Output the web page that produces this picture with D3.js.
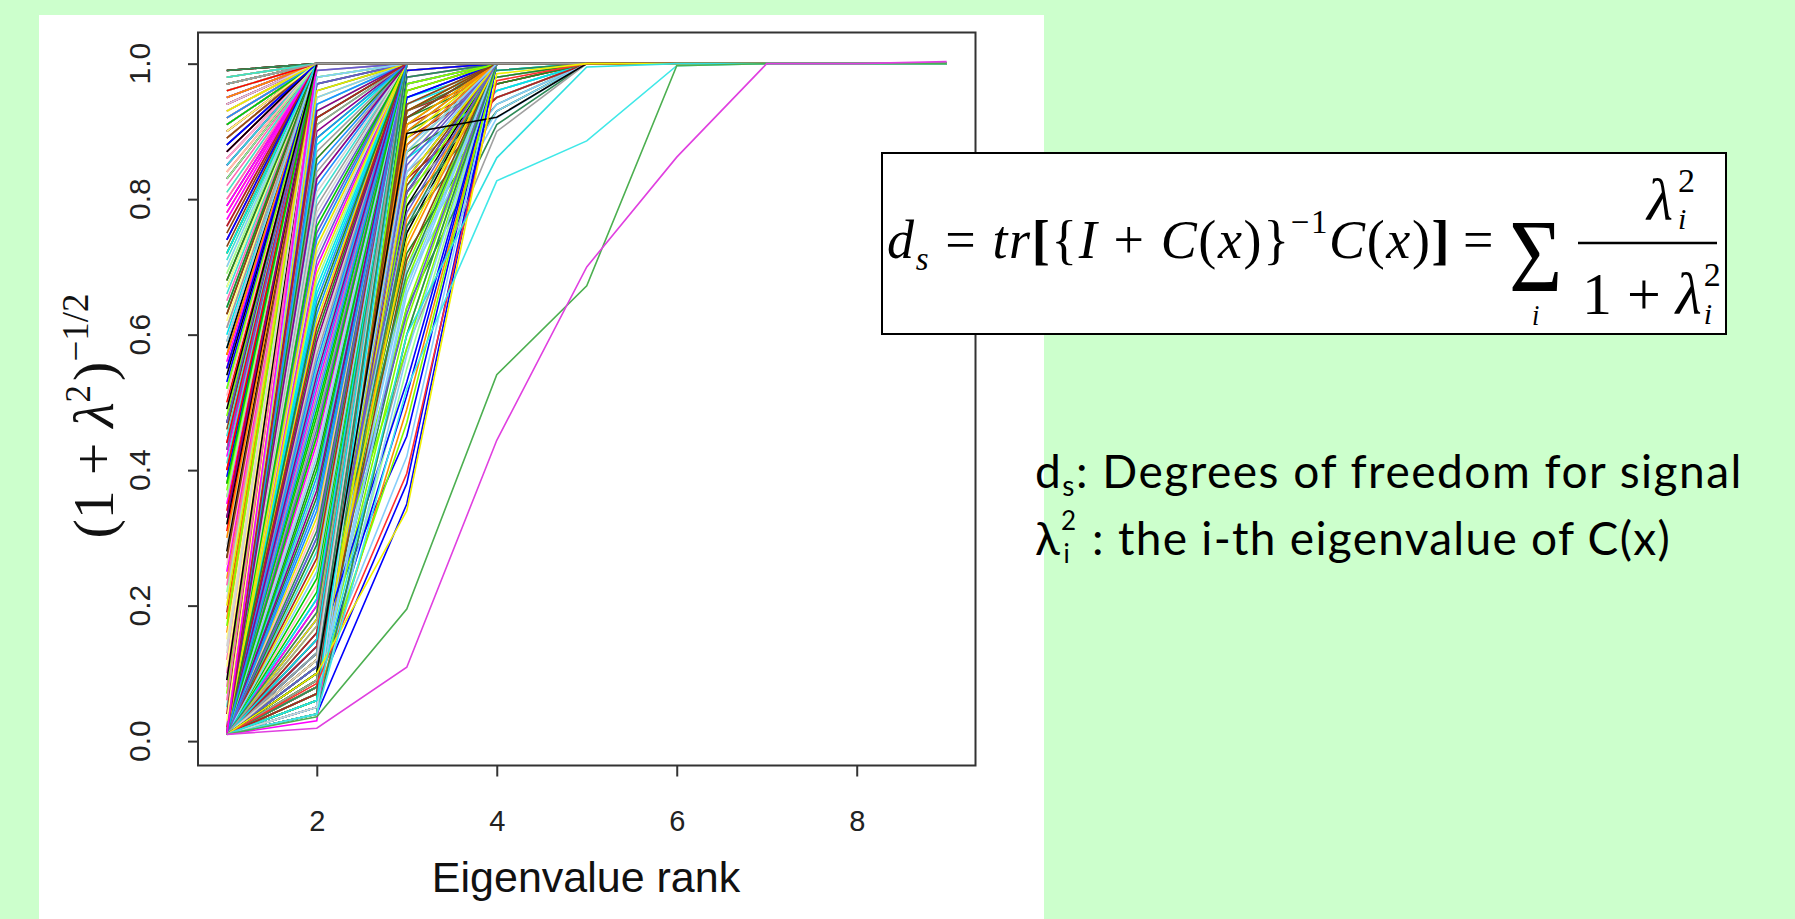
<!DOCTYPE html>
<html>
<head>
<meta charset="utf-8">
<script src="https://cdn.jsdelivr.net/npm/d3@7"></script>
<style>
  body { margin: 0; background: #ccffcc; }
  svg { display: block; }
  text { white-space: pre; }
</style>
</head>
<body>
<div id="chart"></div>
<script>
/* values: each line is one profile over the 9 eigenvalue ranks */
const ranks = [1, 2, 3, 4, 5, 6, 7, 8, 9];
const xTicks = [2, 4, 6, 8];
const yTicks = [0, 0.2, 0.4, 0.6, 0.8, 1.0];
const yTickLabels = ["0.0", "0.2", "0.4", "0.6", "0.8", "1.0"];

const plateau = 1.0;   /* every profile sits at 1.0 once it gets there */
const lowStart = 0.01; /* the point the lower fan starts from at rank 1 */

/* lines that are already at the top by rank 2: value at rank 1 */
const rank1Only = [
  0.97,0.42,0.88,0.12,0.99,0.63,0.91,0.35,0.78,0.95,
  0.05,0.86,0.57,0.93,0.24,0.98,0.71,0.46,0.90,0.83,
  0.16,0.96,0.66,0.38,0.89,0.52,0.99,0.74,0.08,0.94,
  0.81,0.29,0.92,0.60,0.97,0.44,0.87,0.19,0.69,0.95,
  0.55,0.98,0.33,0.85,0.76,0.02,0.93,0.49,0.90,0.64,
  0.27,0.96,0.80,0.40,0.88,0.13,0.99,0.58,0.72,0.94,
  0.36,0.91,0.84,0.21,0.97,0.67,0.47,0.89,0.10,0.95,
  0.62,0.86,0.31,0.98,0.54,0.79,0.92,0.04,0.70,0.96,
  0.43,0.87,0.25,0.93,0.59,0.99,0.82,0.37,0.90,0.15,
  0.68,0.97,0.50,0.85,0.77,0.28,0.94,0.61,0.91,0.07,
  0.45,0.98,0.73,0.88,0.34,0.95,0.56,0.83,0.18,0.96,
  0.65,0.92,0.41,0.89,0.75,0.22,0.97,0.53,0.86,0.99,
  0.30,0.93,0.80,0.48,0.90,0.11,0.94,0.69,0.87,0.39,
  0.98,0.58,0.84,0.26,0.95,0.72,0.91,0.03,0.63,0.96,
  0.44,0.88,0.79,0.32,0.97,0.51,0.92,0.17,0.85,0.67,
  0.99,0.36,0.90,0.74,0.94,0.09,0.57,0.86,0.23,0.98,
  0.81,0.47,0.93,0.64,0.89,0.14,0.96,0.70,0.40,0.91,
  0.55,0.97,0.78,0.20,0.87,0.61,0.95,0.33,0.84,0.99,
  0.06,0.92,0.52,0.76,0.98,0.43,0.90,0.68,0.27,0.94,
  0.83,0.59,0.96,0.38,0.88,0.72,0.01,0.93,0.49,0.97
];

/* lines at the top by rank 3: value at rank 2 */
const rank2Only = [
  0.06,0.45,0.92,0.12,0.71,0.04,0.98,0.33,0.08,0.85,
  0.21,0.58,0.05,0.95,0.14,0.39,0.77,0.07,0.89,0.26,
  0.10,0.63,0.97,0.18,0.04,0.52,0.83,0.09,0.30,0.94,
  0.13,0.68,0.06,0.44,0.99,0.23,0.11,0.80,0.36,0.05,
  0.91,0.16,0.57,0.08,0.74,0.28,0.96,0.12,0.48,0.03,
  0.87,0.19,0.65,0.09,0.41,0.93,0.15,0.06,0.79,0.32,
  0.11,0.55,0.97,0.07,0.24,0.70,0.14,0.86,0.05,0.38,
  0.60,0.10,0.92,0.20,0.47,0.08,0.82,0.13,0.29,0.98,
  0.04,0.66,0.17,0.51,0.90,0.09,0.35,0.12,0.75,0.06,
  0.43,0.95,0.22,0.10,0.62,0.84,0.15,0.07,0.53,0.27,
  0.99,0.11,0.72,0.05,0.40,0.88,0.18,0.08,0.59,0.31,
  0.94,0.14,0.46,0.09,0.78,0.25,0.06,0.67,0.12,0.91,
  0.37,0.07,0.56,0.16,0.97,0.10,0.81,0.04,0.49,0.21,
  0.69,0.13,0.93,0.08,0.34,0.61,0.11,0.86,0.05,0.42,
  0.76,0.15,0.96,0.09,0.54,0.19,0.89,0.07,0.30,0.64,
  0.12,0.98,0.45,0.06,0.73,0.17,0.83,0.10,0.50,0.92
];

/* lines at the top by rank 4: values at rank 2 and rank 3 */
const rank2ToTop4 = [
  0.05,0.08,0.12,0.04,0.10,0.06,0.15,0.07,0.09,0.13,
  0.11,0.05,0.18,0.08,0.06,0.14,0.10,0.04,0.07,0.12,
  0.09,0.16,0.05,0.11,0.08,0.13,0.06,0.20,0.07,0.10,
  0.04,0.09,0.14,0.06,0.12,0.08,0.17,0.05,0.11,0.07,
  0.13,0.09,0.06,0.15,0.10,0.05,0.08,0.12,0.04,0.19,
  0.07,0.11,0.06,0.14,0.09,0.05,0.13,0.08,0.10,0.16,
  0.06,0.12,0.07,0.04,0.11,0.09,0.15,0.05,0.08,0.13,
  0.10,0.06,0.18,0.07,0.12,0.04,0.09,0.14,0.08,0.11
];
const rank3ToTop4 = [
  0.92,0.75,0.98,0.60,0.88,0.95,0.45,0.83,0.97,0.70,
  0.90,0.55,0.99,0.79,0.93,0.64,0.86,0.96,0.38,0.81,
  0.94,0.68,0.89,0.99,0.51,0.91,0.77,0.97,0.62,0.85,
  0.93,0.42,0.88,0.96,0.73,0.90,0.58,0.98,0.82,0.66,
  0.95,0.87,0.49,0.92,0.80,0.97,0.71,0.94,0.35,0.89,
  0.99,0.76,0.91,0.63,0.96,0.84,0.53,0.93,0.88,0.69,
  0.97,0.81,0.92,0.57,0.95,0.74,0.90,0.98,0.47,0.86,
  0.94,0.67,0.99,0.83,0.91,0.60,0.96,0.78,0.93,0.87
];

/* lines at the top by rank 5: values at ranks 2, 3, 4 */
const rank2ToTop5 = [0.06,0.09,0.05,0.12,0.07,0.10,0.08,0.04,0.11,0.06,0.13,0.07,0.09,0.05,0.08,0.10,0.06,0.12,0.07,0.09,0.05,0.11,0.08,0.06];
const rank3ToTop5 = [0.82,0.90,0.76,0.93,0.87,0.68,0.95,0.84,0.79,0.91,0.72,0.88,0.94,0.81,0.64,0.89,0.92,0.77,0.86,0.58,0.93,0.83,0.90,0.70];
const rank4ToTop5 = [0.96,0.97,0.93,0.98,0.95,0.92,0.99,0.96,0.94,0.97,0.93,0.98,0.99,0.95,0.91,0.97,0.98,0.94,0.96,0.90,0.99,0.95,0.97,0.93];

/* the few slow lines that stand apart on the right */
const blackLine   = [0.01, 0.10, 0.897, 0.921, 1, 1, 1, 1, 1];
const redLine     = [0.01, 0.085, 0.395, 0.975, 1, 1, 1, 1, 1];
const yellowLine  = [0.01, 0.10, 0.34, 0.985, 1, 1, 1, 1, 1];
const cyanLine1   = [0.01, 0.06, 0.60, 0.861, 0.995, 1, 1, 1, 1];
const cyanLine2   = [0.01, 0.04, 0.52, 0.827, 0.886, 0.997, 1, 1, 1];
const greenLine   = [0.01, 0.036, 0.195, 0.541, 0.672, 0.997, 1, 1, 1];
const magentaLine = [0.01, 0.019, 0.109, 0.444, 0.70, 0.862, 1, 1, 1.003];

const palette = ["#ff0000","#00cd00","#0000ff","#00e5ee","#ff00ff","#e8e800","#000000","#a0a0a0",
                 "#ff8c00","#8b008b","#ffb6c1","#2e8b57","#ff69b4","#1e90ff","#7fff00","#b22222",
                 "#40e0d0","#6a5acd","#ffff80","#228b22","#8b4513","#d3d3d3","#98fb98","#87cefa"];

document.addEventListener('DOMContentLoaded', function(){

  const W = 1795, H = 919;
  const pad = (given) => ranks.map((r, k) => k < given.length ? given[k] : plateau);

  const groupA = rank1Only.map(v => pad([v]));
  const groupB = rank2Only.map(v => pad([lowStart, v]));
  const groupC = rank2ToTop4.map((v, i) => pad([lowStart, v, rank3ToTop4[i]]));
  const groupD = rank2ToTop5.map((v, i) => pad([lowStart, v, rank3ToTop5[i], rank4ToTop5[i]]));

  /* mix the groups so the drawing order is not grouped */
  const series = [];
  for (let i = 0; i < groupA.length; i++) {
    series.push(groupA[i]);
    if (i < groupB.length) series.push(groupB[i]);
    if (i < groupC.length) series.push(groupC[i]);
    if (i < groupD.length) series.push(groupD[i]);
  }
  const specials = [
    {v: blackLine, c: "#000000"}, {v: redLine, c: "#ff3030"}, {v: yellowLine, c: "#f0f000"},
    {v: cyanLine1, c: "#30e0e0"}, {v: cyanLine2, c: "#40e8e8"},
    {v: greenLine, c: "#4caf50"}, {v: magentaLine, c: "#e040e0"}
  ];

  const svg = d3.select("#chart").append("svg")
      .attr("width", W).attr("height", H);

  /* white panel of the pasted plot */
  svg.append("rect").attr("x", 39).attr("y", 15).attr("width", 1005).attr("height", H - 15)
      .attr("fill", "#ffffff");

  const xScale = d3.scaleLinear().domain([0.68, 9.32]).range([198, 975.5]);
  const yScale = d3.scaleLinear().domain([-0.036, 1.046]).range([765.5, 32.5]);

  const line = d3.line()
      .x((d, i) => xScale(ranks[i]))
      .y(d => yScale(d));

  const plot = svg.append("g");
  plot.selectAll("path.prof")
    .data(series)
    .enter()
    .append("path")
    .attr("class", "prof")
    .attr("d", line)
    .attr("fill", "none")
    .attr("stroke", (d, i) => palette[i % palette.length])
    .attr("stroke-width", 1.6);

  plot.selectAll("path.special")
    .data(specials)
    .enter()
    .append("path")
    .attr("class", "special")
    .attr("d", d => line(d.v))
    .attr("fill", "none")
    .attr("stroke", d => d.c)
    .attr("stroke-width", 1.6);

  /* box */
  svg.append("rect")
      .attr("x", 198).attr("y", 32.5).attr("width", 975.5 - 198).attr("height", 765.5 - 32.5)
      .attr("fill", "none").attr("stroke", "#333").attr("stroke-width", 2);

  const xAxis = d3.axisBottom(xScale).tickValues(xTicks).tickSize(11).tickPadding(34)
      .tickFormat(d3.format("d"));
  const gx = svg.append("g")
      .attr("transform", "translate(0," + 765.5 + ")")
      .call(xAxis);
  gx.select(".domain").remove();
  gx.selectAll("line").attr("stroke", "#333").attr("stroke-width", 2);
  gx.selectAll("text").attr("font-family", "Liberation Sans, Arial, sans-serif")
      .attr("font-size", 29).attr("fill", "#222");

  const yAxis = d3.axisLeft(yScale).tickValues(yTicks).tickSize(10).tickFormat("");
  const gy = svg.append("g")
      .attr("transform", "translate(198,0)")
      .call(yAxis);
  gy.select(".domain").remove();
  gy.selectAll("line").attr("stroke", "#333").attr("stroke-width", 2);

  svg.selectAll("text.ylab")
    .data(yTicks)
    .enter()
    .append("text")
    .attr("class", "ylab")
    .attr("transform", d => "translate(150," + yScale(d) + ") rotate(-90)")
    .attr("text-anchor", "middle")
    .attr("font-family", "Liberation Sans, Arial, sans-serif")
    .attr("font-size", 30)
    .attr("fill", "#222")
    .text((d, i) => yTickLabels[i]);

  svg.append("text")
      .attr("x", 586).attr("y", 892)
      .attr("text-anchor", "middle")
      .attr("font-family", "Liberation Sans, Arial, sans-serif")
      .attr("font-size", 43)
      .attr("fill", "#111")
      .text("Eigenvalue rank");

  /* y title (1 + lambda^2)^(-1/2) */
  const yt = svg.append("text")
      .attr("transform", "translate(113,416) rotate(-90)")
      .attr("text-anchor", "middle")
      .attr("font-family", "Liberation Serif, Times New Roman, serif")
      .attr("font-size", 58)
      .attr("fill", "#111");
  yt.append("tspan").text("(1");
  yt.append("tspan").attr("dx", 15).text("+");
  yt.append("tspan").attr("dx", 15).attr("font-style", "italic").text("λ");
  yt.append("tspan").attr("font-size", 35).attr("dy", -23).text("2");
  yt.append("tspan").attr("dx", 4).attr("dy", 23).text(")");
  yt.append("tspan").attr("font-size", 37).attr("dy", -25).text("−1/2");

  /* squeeze or stretch a text to a measured width by letter spacing */
  const fitSpacing = (sel, width) => {
    const w = sel.node().getComputedTextLength();
    const n = sel.node().getNumberOfChars();
    sel.attr("letter-spacing", (width - w) / n);
  };

  /* formula box */
  svg.append("rect").attr("x", 882).attr("y", 153).attr("width", 844).attr("height", 181)
      .attr("fill", "#ffffff").attr("stroke", "#000").attr("stroke-width", 2);

  const serif = "Liberation Serif, Times New Roman, serif";
  const B = 258;
  const f1 = svg.append("text").attr("x", 887).attr("y", B).attr("font-family", serif).attr("font-size", 54).attr("fill", "#000");
  f1.append("tspan").attr("font-style", "italic").text("d");
  f1.append("tspan").attr("font-style", "italic").attr("font-size", 33).attr("dy", 12).text("s");
  f1.append("tspan").attr("dy", -12).text(" = ");
  f1.append("tspan").attr("font-style", "italic").text("tr");
  f1.append("tspan").attr("font-weight", "bold").text("[");
  f1.append("tspan").text("{");
  f1.append("tspan").attr("font-style", "italic").text("I");
  f1.append("tspan").text(" + ");
  f1.append("tspan").attr("font-style", "italic").text("C");
  f1.append("tspan").text("(");
  f1.append("tspan").attr("font-style", "italic").text("x");
  f1.append("tspan").text(")}");
  f1.append("tspan").attr("font-size", 33).attr("dy", -25).text("−1");
  f1.append("tspan").attr("font-style", "italic").attr("dy", 25).text("C");
  f1.append("tspan").text("(");
  f1.append("tspan").attr("font-style", "italic").text("x");
  f1.append("tspan").text(")");
  f1.append("tspan").attr("font-weight", "bold").text("]");
  fitSpacing(f1, 564);

  svg.append("text").attr("x", 1463).attr("y", B).attr("font-family", serif).attr("font-size", 54).text("=");

  /* sum sign with its index below, one text */
  const sx = 0.88;
  const sig = svg.append("text").attr("x", 1509).attr("y", 291).attr("font-family", serif)
      .attr("transform", "translate(1509,0) scale(" + sx + ",1) translate(-1509,0)");
  sig.append("tspan").attr("font-size", 104).text("Σ");
  sig.append("tspan").attr("x", 1509 + 23 / sx).attr("dy", 34).attr("font-size", 30)
      .attr("font-style", "italic").text("i");

  svg.append("line").attr("x1", 1578).attr("x2", 1717).attr("y1", 243).attr("y2", 243)
      .attr("stroke", "#000").attr("stroke-width", 2.5);

  const num = svg.append("text").attr("x", 1647).attr("y", 220).attr("font-family", serif);
  num.append("tspan").attr("font-style", "italic").attr("font-size", 60).text("λ");
  num.append("tspan").attr("x", 1678).attr("dy", -28).attr("font-size", 34).text("2");
  num.append("tspan").attr("x", 1678).attr("dy", 37).attr("font-size", 30).attr("font-style", "italic").text("i");

  const den = svg.append("text").attr("x", 1582).attr("y", 314).attr("font-family", serif).attr("font-size", 60);
  den.append("tspan").text("1 + ");
  den.append("tspan").attr("font-style", "italic").text("λ");
  const denEnd = 1582 + den.node().getComputedTextLength() + 2;
  den.append("tspan").attr("x", denEnd).attr("dy", -28).attr("font-size", 34).text("2");
  den.append("tspan").attr("x", denEnd).attr("dy", 38).attr("font-size", 30).attr("font-style", "italic").text("i");

  /* notes on the right, both lines in one text */
  const sans = "Lato, Carlito, Calibri, sans-serif";
  const note1 = [
    {t: "d"}, {t: "s", size: 28, dy: 8}, {t: ": Degrees of freedom for signal", dy: -8}
  ];
  const note2 = [
    {t: "λ"}, {t: "2", size: 26, dy: -25}, {t: "i", size: 26, dx: -14, dy: 33},
    {t: " : the i-th eigenvalue of C(x)", dx: 8, dy: -8}
  ];
  const addParts = (parent, parts, x, y, ls) => {
    parts.forEach((p, k) => {
      const ts = parent.append("tspan").text(p.t).attr("letter-spacing", ls);
      if (k === 0) ts.attr("x", x).attr("y", y);
      if (p.size) ts.attr("font-size", p.size);
      if (p.dx) ts.attr("dx", p.dx);
      if (p.dy) ts.attr("dy", p.dy);
    });
  };
  const spacingFor = (parts, width) => {
    const tmp = svg.append("text").attr("font-family", sans).attr("font-size", 46);
    addParts(tmp, parts, 0, -100, 0);
    const w = tmp.node().getComputedTextLength();
    const n = tmp.node().getNumberOfChars();
    tmp.remove();
    return (width - w) / n;
  };
  const ls1 = spacingFor(note1, 708);
  const ls2 = spacingFor(note2, 642);
  const notes = svg.append("text").attr("font-family", sans).attr("font-size", 46).attr("fill", "#000");
  addParts(notes, note1, 1035, 488, ls1);
  addParts(notes, note2, 1035, 555, ls2);
});
</script>
</body>
</html>
